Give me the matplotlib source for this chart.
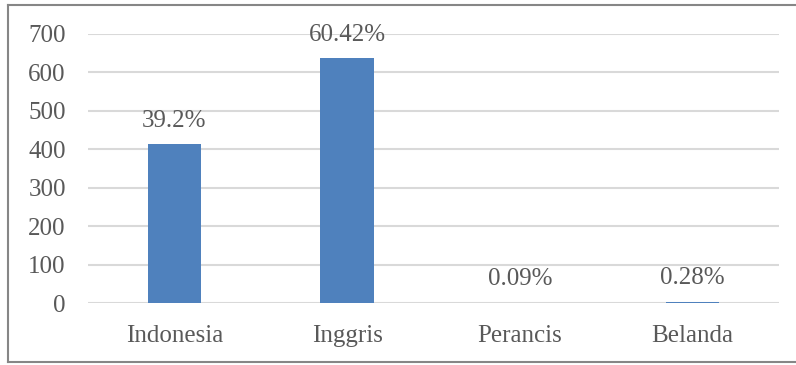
import matplotlib
matplotlib.use('Agg')
import matplotlib.pyplot as plt
from matplotlib.lines import Line2D

# data
bahasa = ['Indonesia', 'Inggris', 'Perancis', 'Belanda']
jumlah = [413, 637, 1, 3]
persen = ['39.2%', '60.42%', '0.09%', '0.28%']

plt.rcParams['font.family'] = ['Liberation Serif', 'DejaVu Serif']
warna_teks = '#595959'

fig = plt.figure(figsize=(7.96, 3.65), dpi=100)
W, H = 796, 365
ax = fig.add_axes([88 / W, 1 - 303 / H, (779 - 88) / W, (303 - 34) / H])

x = range(len(bahasa))
bars = ax.bar(x, jumlah, width=0.31, color='#4F81BD', zorder=3)

for b, p in zip(bars, persen):
    ax.annotate(p, (b.get_x() + b.get_width() / 2, b.get_height()),
                xytext=(0, 9), textcoords='offset points',
                ha='center', va='bottom', fontsize=18, color=warna_teks)

ax.set_xlim(-0.5, len(bahasa) - 0.5)
ax.set_ylim(0, 700)
ax.set_yticks(range(0, 701, 100))
ax.set_xticks(list(x))
ax.set_xticklabels(bahasa)
ax.tick_params(axis='both', length=0, labelsize=18, labelcolor=warna_teks)
ax.tick_params(axis='x', pad=16)
ax.tick_params(axis='y', pad=16)
ax.grid(axis='y', color='#D9D9D9', linewidth=1.5, zorder=0)
for s in ax.spines.values():
    s.set_visible(False)

# border around the chart
kiri, atas, bawah = 8 / W, 1 - 5 / H, 1 - 362 / H
for xs, ys in [([kiri, 1.0], [atas, atas]), ([kiri, kiri], [bawah, atas]),
               ([kiri, 1.0], [bawah, bawah])]:
    fig.add_artist(Line2D(xs, ys, color='#868686', linewidth=1.5,
                          transform=fig.transFigure))

fig.savefig('out.png', dpi=100)
